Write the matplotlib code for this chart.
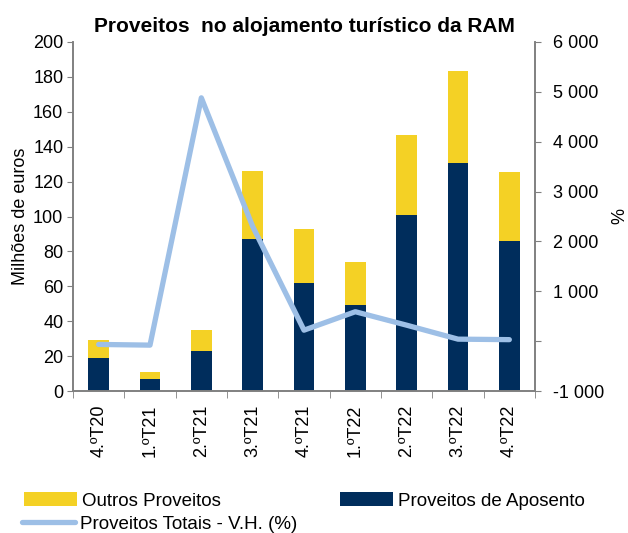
import matplotlib.pyplot as plt
import numpy as np

plt.rcParams['font.family'] = ['Liberation Sans', 'DejaVu Sans']

# data
quarters = ['4.ºT20', '1.ºT21', '2.ºT21', '3.ºT21', '4.ºT21',
            '1.ºT22', '2.ºT22', '3.ºT22', '4.ºT22']
aposento = [19, 6.6, 23, 87, 62, 49, 101, 130.7, 86]
total = [29.2, 10.9, 35, 126, 93, 74, 146.7, 183.4, 125.5]
outros = [t - a for t, a in zip(total, aposento)]
vh = [-66, -80, 4880, 2300, 220, 590, 320, 40, 30]

yellow = '#F4D125'
navy = '#002D5C'
blue = '#9DBFE6'
grey = '#808080'

fig = plt.figure(figsize=(6.28, 5.33), dpi=100)
ax = fig.add_axes([73 / 628, 1 - 391 / 533, 462 / 628, 349 / 533])
ax2 = ax.twinx()

x = np.arange(len(quarters))
b1 = ax.bar(x, aposento, width=0.4, color=navy, zorder=2)
b2 = ax.bar(x, outros, width=0.4, bottom=aposento, color=yellow, zorder=2)
ln, = ax2.plot(x, vh, color=blue, lw=3.8, solid_capstyle='round')

ax.set_xlim(-0.5, len(quarters) - 0.5)
ax.set_ylim(0, 200)
ax.set_yticks(range(0, 201, 20))
ax2.set_ylim(-1000, 6000)
ax2.set_yticks(range(-1000, 6001, 1000))
ax2.set_yticklabels(['' if v == 0 else f'{v:,}'.replace(',', ' ')
                     for v in range(-1000, 6001, 1000)])

ax.set_xticks(x)
ax.set_xticklabels(quarters, rotation=90, fontsize=13)
ax.set_xticks(np.arange(-0.5, len(quarters), 1), minor=True)
ax.tick_params(axis='x', which='major', length=0, pad=10)
ax.tick_params(axis='x', which='minor', length=5, color=grey)
ax.tick_params(axis='y', labelsize=13, length=4, color=grey, pad=3)
ax2.tick_params(axis='y', labelsize=13, length=4, color=grey, pad=9)

for a in (ax, ax2):
    a.spines['top'].set_visible(False)
    for s in ('left', 'right', 'bottom'):
        a.spines[s].set_color(grey)
        a.spines[s].set_linewidth(1.2)

ax.set_ylabel('Milhões de euros', fontsize=13, labelpad=3)
ax2.set_ylabel('%', fontsize=13, labelpad=5)
ax.set_title('Proveitos  no alojamento turístico da RAM', fontsize=15,
             fontweight='bold', pad=7)

ax.set_zorder(ax2.get_zorder() - 1)
ax2.patch.set_visible(False)

leg_kw = dict(loc='center left', frameon=False, fontsize=13.5, handlelength=2.8,
              handletextpad=0.27, borderpad=0, borderaxespad=0)
leg1 = fig.legend([b2, b1], ['Outros Proveitos', 'Proveitos de Aposento'], ncol=2,
                  bbox_to_anchor=(24 / 628, 1 - 501 / 533), columnspacing=6.4, **leg_kw)
leg2 = fig.legend([ln], ['Proveitos Totais - V.H. (%)'],
                  bbox_to_anchor=(22 / 628, 1 - 524 / 533), **leg_kw)

fig.savefig('out.png', dpi=100)
